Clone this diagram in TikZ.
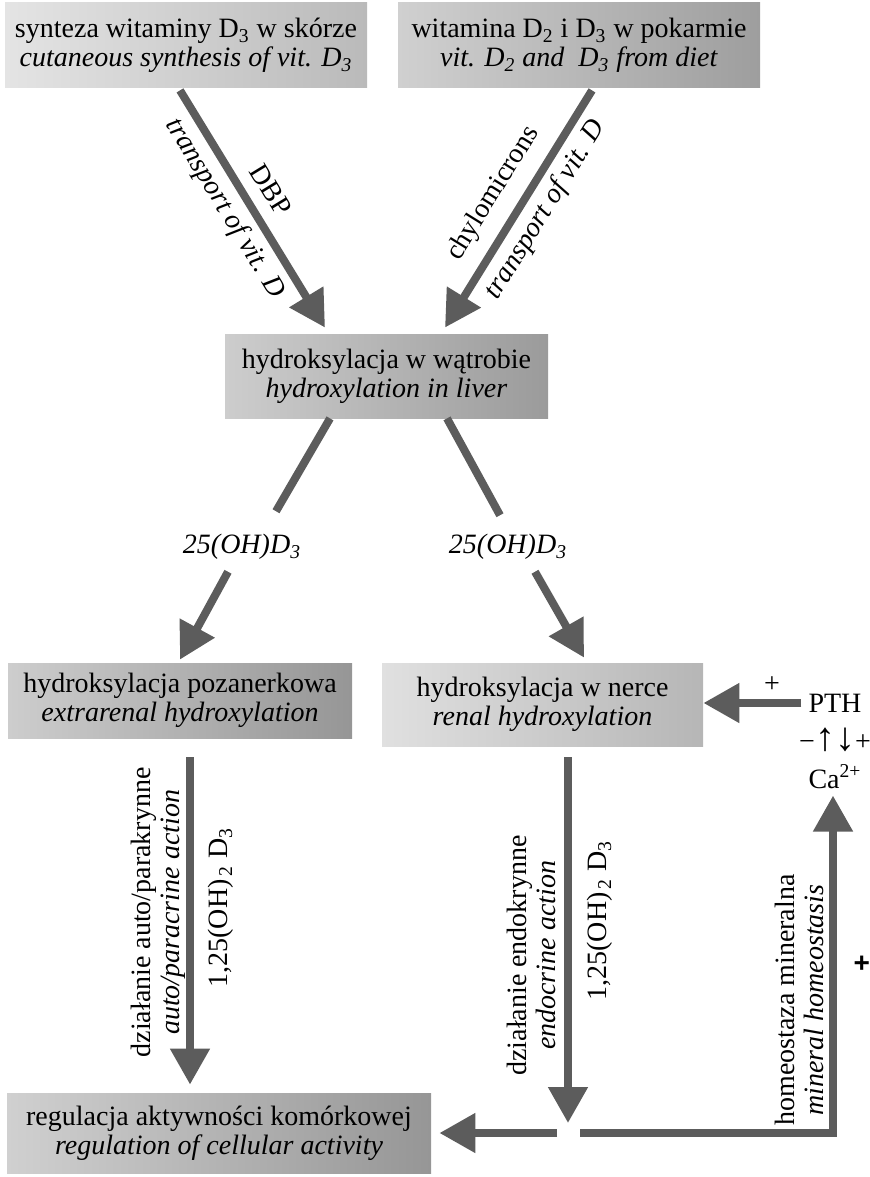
\documentclass[tikz,border=0pt]{standalone}
\usepackage{fontspec}
\setmainfont{Liberation Serif}
\setsansfont{Liberation Sans}
\usetikzlibrary{arrows.meta, positioning, calc}

\definecolor{arrowgray}{RGB}{92,92,92}
\definecolor{skinL}{RGB}{228,228,228}
\definecolor{skinR}{RGB}{186,186,186}
\definecolor{dietL}{RGB}{208,208,208}
\definecolor{dietR}{RGB}{158,158,158}
\definecolor{liverL}{RGB}{205,205,205}
\definecolor{liverR}{RGB}{155,155,155}
\definecolor{extraL}{RGB}{205,205,205}
\definecolor{extraR}{RGB}{150,150,150}
\definecolor{renalL}{RGB}{224,224,224}
\definecolor{renalR}{RGB}{182,182,182}
\definecolor{cellL}{RGB}{208,208,208}
\definecolor{cellR}{RGB}{150,150,150}

\begin{document}
\begin{tikzpicture}[
  x=0.5pt, y=-0.5pt,
  node distance=0pt,
  every node/.style={font=\fontsize{14}{14.5}\selectfont},
  process/.style={rectangle, align=center, inner sep=2pt},
  vlabel/.style={rotate=90, align=center, inner sep=0pt},
  arrow/.style={-{Triangle[length=18pt, width=19pt]}, line width=4pt, draw=arrowgray},
  link/.style={line width=4pt, draw=arrowgray}
]

\useasboundingbox (0,0) rectangle (870,1177);

\node[process, left color=skinL, right color=skinR, minimum width=181pt, minimum height=42.5pt]
  (skinSynth) at (186,45.5)
  {synteza witaminy D\textsubscript{3} w skórze\\
   \textit{cutaneous synthesis of vit. D\textsubscript{3}}};

\node[process, left color=dietL, right color=dietR, minimum width=181pt, minimum height=42.5pt]
  (dietIntake) at (579,45.5)
  {witamina D\textsubscript{2} i D\textsubscript{3} w pokarmie\\
   \textit{vit. D\textsubscript{2} and~ D\textsubscript{3} from diet}};

\node[process, left color=liverL, right color=liverR, minimum width=161.5pt, minimum height=42pt]
  (liverHydrox) at (386.5,376)
  {hydroksylacja w wątrobie\\
   \textit{hydroxylation in liver}};

\node (ohLeft) at (242,547) {\textit{25(OH)D\textsubscript{3}}};
\node (ohRight) at (508,547) {\textit{25(OH)D\textsubscript{3}}};

\node[process, left color=extraL, right color=extraR, minimum width=172pt, minimum height=37.5pt]
  (extraRenal) at (180,700.5)
  {hydroksylacja pozanerkowa\\
   \textit{extrarenal hydroxylation}};

\node[process, left color=renalL, right color=renalR, minimum width=160.5pt, minimum height=41.5pt]
  (renalHydrox) at (542.5,704.5)
  {hydroksylacja w nerce\\
   \textit{renal hydroxylation}};

\node[process, left color=cellL, right color=cellR, minimum width=212pt, minimum height=40pt]
  (cellReg) at (219,1133)
  {regulacja aktywności komórkowej\\
   \textit{regulation of cellular activity}};

\node (pth) at (835,703) {PTH};
\node[below=3pt of pth, inner sep=1pt] (pthCa) {−{\fontsize{20}{20}\selectfont↑↓}+};
\node[below=2pt of pthCa] (caIon) {Ca\textsuperscript{2+}};

\coordinate (junc) at (568,1133);
\coordinate (corner) at (833,1133);

% Labels beside the vertical arrows
\node[vlabel] (autoLabel) at ($(extraRenal.south)+(-22,174)$)
  {działanie auto/parakrynne\\\textit{auto/paracrine action}};
\node[vlabel] (autoDose) at ($(extraRenal.south)+(41,169)$)
  {1,25(OH)\textsubscript{\,2} D\textsubscript{3}};
\node[vlabel] (endoLabel) at ($(renalHydrox.south)+(-11.5,209)$)
  {działanie endokrynne\\\textit{endocrine action}};
\node[vlabel] (endoDose) at ($(renalHydrox.south)+(57.5,174)$)
  {1,25(OH)\textsubscript{\,2} D\textsubscript{3}};
\node[vlabel] (homeoLabel) at ($(corner)+(-34,-133)$)
  {homeostaza mineralna\\\textit{mineral homeostasis}};

% Arrows (transport to liver)
\draw[arrow] ($(skinSynth.south)+(-6,2)$) --
  node[pos=0.475, sloped, above=3pt] {DBP}
  node[pos=0.446, sloped, below] {\textit{transport of vit. D}}
  ($(liverHydrox.north)+(-61.5,-6)$);
\draw[arrow] ($(dietIntake.south)+(13,2)$) --
  node[pos=0.5, sloped, above=3pt] {chylomicrons}
  node[pos=0.45, sloped, below] {\textit{transport of vit. D}}
  ($(liverHydrox.north)+(58.5,-6)$);

% Liver to 25(OH)D3
\draw[link] ($(liverHydrox.south)+(-56.5,0)$) -- ($(ohLeft.north)+(34,-16)$);
\draw[link] ($(liverHydrox.south)+(60.5,0)$) -- ($(ohRight.north)+(-8,-12)$);
\draw[arrow] ($(ohLeft.south)+(-14,5)$) -- ($(extraRenal.north)+(0,-3)$);
\draw[arrow] ($(ohRight.south)+(27,5)$) -- ($(renalHydrox.north)+(41.5,-5)$);

% PTH
\draw[arrow] (pth.west) -- node[pos=0.3, above] {+} (pth.west -| renalHydrox.east);

% Down to cellular regulation
\draw[arrow] ($(extraRenal.south)+(10,19)$) -- ($(cellReg.north)+(-29,-8)$);
\draw[arrow] ($(renalHydrox.south)+(25.5,11)$) -- ($(junc)+(0,-10)$);
\draw[arrow] ($(junc)+(-11,0)$) -- ($(cellReg.east)+(8,0)$);
\draw[arrow] ($(junc)+(12,0)$) -- (corner) --
  node[pos=0.5, right=5pt] {\sffamily\bfseries +}
  (corner |- caIon.south);

\end{tikzpicture}
\end{document}
